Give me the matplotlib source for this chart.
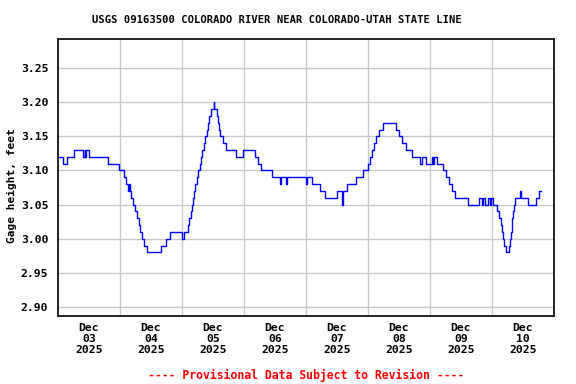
import matplotlib
matplotlib.use("Agg")
import matplotlib.pyplot as plt

# gage height, step points (hours after Dec 03 00:00, feet)
hours = [0.0, 2.0, 3.5, 6.2, 9.7, 10.3, 10.6, 11.0, 12.0, 19.4, 23.6, 25.5, 26.3, 27.1, 27.4,
         27.9, 28.3, 29.0, 29.8, 30.6, 31.2, 31.7, 32.5, 33.3, 34.5, 39.9, 41.8, 43.4, 48.0,
         48.6, 50.3, 50.7, 51.3, 51.9, 52.3, 52.8, 53.2, 53.8, 54.2, 54.8, 55.4, 55.9, 56.5,
         56.9, 57.5, 58.1, 58.6, 59.2, 60.2, 60.5, 61.5, 62.1, 62.5, 62.9, 63.9, 65.0, 68.9,
         71.6, 76.3, 77.4, 78.6, 82.8, 85.9, 86.3, 88.3, 88.6, 96.0, 96.4, 98.3, 101.4, 103.4,
         108.0, 109.9, 110.3, 111.9, 115.4, 118.1, 120.0, 120.8, 121.5, 122.3, 123.1, 124.3,
         125.8, 130.8, 132.0, 133.2, 134.7, 137.0, 140.1, 140.9, 142.5, 144.8, 145.2, 145.5,
         146.7, 149.0, 150.2, 151.4, 152.5, 153.7, 158.7, 163.0, 164.1, 164.5, 165.3, 166.5,
         167.2, 167.6, 168.4, 169.9, 170.7, 171.3, 171.9, 172.3, 172.6, 173.4, 174.4, 175.0,
         175.4, 175.7, 175.9, 176.1, 176.5, 176.9, 178.8, 179.4, 181.9, 185.0, 186.2, 187.0]
gage = [3.12, 3.11, 3.12, 3.13, 3.12, 3.13, 3.12, 3.13, 3.12, 3.11, 3.10, 3.09, 3.08, 3.07, 3.08,
        3.07, 3.06, 3.05, 3.04, 3.03, 3.02, 3.01, 3.00, 2.99, 2.98, 2.99, 3.00, 3.01, 3.00,
        3.01, 3.02, 3.03, 3.04, 3.05, 3.06, 3.07, 3.08, 3.09, 3.10, 3.11, 3.12, 3.13, 3.14,
        3.15, 3.16, 3.17, 3.18, 3.19, 3.20, 3.19, 3.18, 3.17, 3.16, 3.15, 3.14, 3.13, 3.12,
        3.13, 3.12, 3.11, 3.10, 3.09, 3.08, 3.09, 3.08, 3.09, 3.08, 3.09, 3.08, 3.07, 3.06,
        3.07, 3.05, 3.07, 3.08, 3.09, 3.10, 3.11, 3.12, 3.13, 3.14, 3.15, 3.16,
        3.17, 3.16, 3.15, 3.14, 3.13, 3.12, 3.11, 3.12, 3.11, 3.12, 3.11, 3.12,
        3.11, 3.10, 3.09, 3.08, 3.07, 3.06, 3.05, 3.06, 3.05, 3.06, 3.05, 3.06,
        3.05, 3.06, 3.05, 3.04, 3.03, 3.02, 3.01, 3.00, 2.99, 2.98, 2.99, 3.00,
        3.01, 3.02, 3.03, 3.04, 3.05, 3.06, 3.07, 3.06, 3.05, 3.06, 3.07, 3.07]

day_labels = ["Dec\n03\n2025", "Dec\n04\n2025", "Dec\n05\n2025", "Dec\n06\n2025",
              "Dec\n07\n2025", "Dec\n08\n2025", "Dec\n09\n2025", "Dec\n10\n2025"]
y_ticks = [2.90, 2.95, 3.00, 3.05, 3.10, 3.15, 3.20, 3.25]

MONO = dict(family="DejaVu Sans Mono", weight="bold")

fig = plt.figure(figsize=(5.76, 3.84), dpi=100)
ax = fig.add_axes([58 / 576, 1 - 316 / 384, 496 / 576, 277 / 384])

ax.plot(hours, gage, color="#0000ff", lw=1.0, drawstyle="steps-post", zorder=3)

ax.set_xlim(0, 192)
ax.set_ylim(2.8868, 3.2926)

# labels at noon, grid at midnight
ax.set_xticks([12 + 24 * i for i in range(len(day_labels))])
ax.set_xticklabels(day_labels, **MONO, size=8.2, linespacing=1.12)
ax.set_xticks([24 * i for i in range(1, 8)], minor=True)
ax.set_yticks(y_ticks)
ax.set_yticklabels([f"{v:.2f}" for v in y_ticks], **MONO, size=8.2)
ax.tick_params(which="both", length=0)
ax.tick_params(axis="x", pad=5)
ax.tick_params(axis="y", pad=7)
ax.grid(True, which="minor", axis="x", color="#c8c8c8", lw=1.0)
ax.grid(True, which="major", axis="y", color="#c8c8c8", lw=1.0)

for s in ax.spines.values():
    s.set_linewidth(1.2)
    s.set_color("black")

ax.set_ylabel("Gage height, feet", **MONO, size=8.0)
ax.yaxis.set_label_coords(-0.083, 0.47)

fig.text(277 / 576, 1 - 20 / 384, "USGS 09163500 COLORADO RIVER NEAR COLORADO-UTAH STATE LINE",
         ha="center", va="center", **MONO, size=7.6)
fig.text(306 / 576, 1 - 375 / 384, "---- Provisional Data Subject to Revision ----",
         ha="center", va="center", color="red", **MONO, size=8.3)

fig.savefig("out.png", dpi=100)
